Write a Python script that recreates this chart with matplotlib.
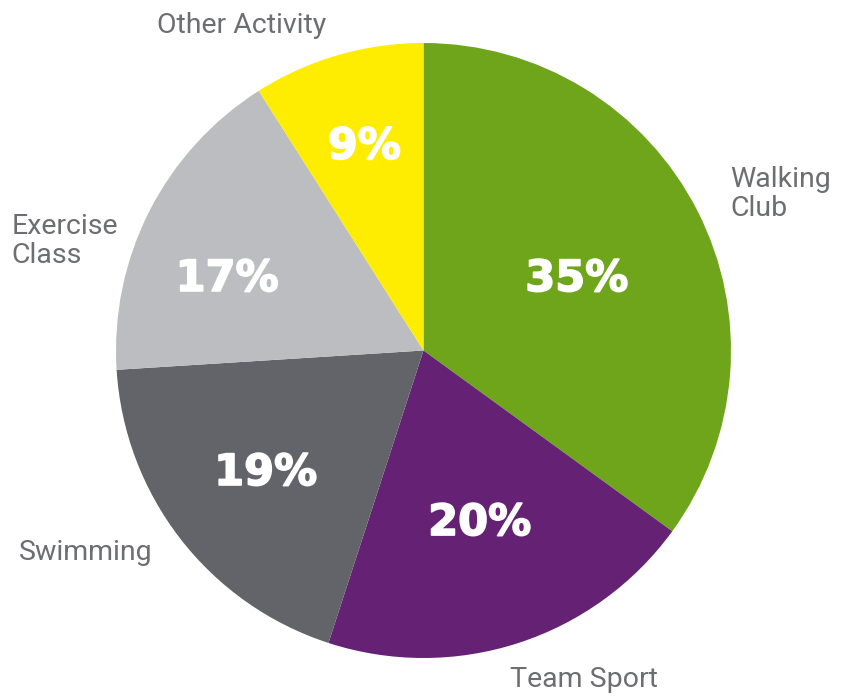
import matplotlib.pyplot as plt
import matplotlib.patheffects as pe
import numpy as np

# dados do grafico
categorias = ["Walking\nClub", "Team Sport", "Swimming", "Exercise\nClass", "Other Activity"]
valores = [35, 20, 19, 17, 9]
cores = ["#6fa51b", "#652173", "#636469", "#bcbdc0", "#ffed00"]

# posicao dos textos (distancia em raios, desvio de angulo em graus, alinhamento)
dist_pct = [0.55, 0.59, 0.65, 0.68, 0.69]
desvio_pct = [-2, 0, 0, 7, 0]
dist_lab = [1.12, 1.19, 1.28, 1.22, 1.21]
desvio_lab = [0, 8, -7, 10, 13]
alinh_lab = ["left", "center", "center", "center", "center"]

fig = plt.figure(figsize=(8.45, 6.96), dpi=100)
ax = fig.add_axes([0, 0, 1, 1])

cx, cy, r = 423.5, 345.5, 307.5
wedges, _ = ax.pie(valores, colors=cores, startangle=90, counterclock=False,
                   center=(cx, cy), radius=r, frame=True,
                   wedgeprops=dict(linewidth=0))
ax.set_xlim(0, 845)
ax.set_ylim(0, 696)
ax.set_aspect("equal")
ax.axis("off")

for i, w in enumerate(wedges):
    meio = np.deg2rad((w.theta1 + w.theta2) / 2)
    a = meio + np.deg2rad(desvio_pct[i])
    x = cx + r * dist_pct[i] * np.cos(a)
    y = cy + r * dist_pct[i] * np.sin(a)
    ax.text(x, y, f"{valores[i]}%", ha="center", va="center", color="white",
            fontsize=31, fontweight="bold", family="DejaVu Sans",
            path_effects=[pe.withStroke(linewidth=1.2, foreground="white")])

    a = meio + np.deg2rad(desvio_lab[i])
    x = cx + r * dist_lab[i] * np.cos(a)
    y = cy + r * dist_lab[i] * np.sin(a)
    ax.text(x, y, categorias[i], ha=alinh_lab[i], va="center", color="#6d6e71",
            fontsize=20.5, family="Roboto", linespacing=1.1,
            multialignment="left")

plt.savefig("out.png", dpi=100)
